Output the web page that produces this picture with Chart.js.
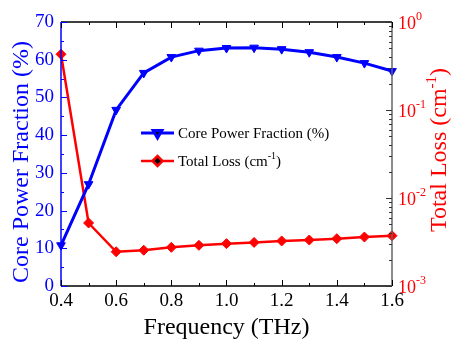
<!DOCTYPE html>
<html>
<head>
<meta charset="utf-8">
<script src="https://cdn.jsdelivr.net/npm/chart.js@4.4.1/dist/chart.umd.min.js"></script>
<style>
  html, body { margin: 0; padding: 0; background: #fff; }
  canvas { display: block; }
</style>
</head>
<body>
<canvas id="chart" width="454" height="341"></canvas>
<script>
'use strict';

const FREQ = [0.4, 0.5, 0.6, 0.7, 0.8, 0.9, 1.0, 1.1, 1.2, 1.3, 1.4, 1.5, 1.6];
const CORE_FRACTION = [10.8, 27.0, 46.7, 56.5, 60.7, 62.4, 63.1, 63.2, 62.8, 62.0, 60.7, 59.1, 57.0];
const TOTAL_LOSS = [0.43, 0.0052, 0.00245, 0.00255, 0.00275, 0.0029, 0.00303, 0.00313, 0.00325, 0.00333, 0.00345, 0.0036, 0.00373];

const LOSS_DECADES = [-3, -2, -1, 0];

const BLUE  = '#0000ff';
const RED   = '#ff0000';
const SERIF = '"Liberation Serif", "Times New Roman", serif';

// inward ticks, titles, log labels and legend
const decorPlugin = {
  id: 'decor',
  afterDraw(chart) {
    const { ctx, chartArea: a, scales } = chart;
    const x = scales.x, y = scales.y, y1 = scales.y1;
    ctx.save();

    // frame
    ctx.lineWidth = 1.5;
    ctx.strokeStyle = '#000';
    ctx.beginPath();
    ctx.moveTo(a.left, a.top); ctx.lineTo(a.right, a.top);
    ctx.moveTo(a.left, a.bottom); ctx.lineTo(a.right, a.bottom);
    ctx.stroke();
    ctx.strokeStyle = '#666';
    ctx.beginPath();
    ctx.moveTo(a.right, a.top); ctx.lineTo(a.right, a.bottom);
    ctx.stroke();
    ctx.strokeStyle = BLUE;
    ctx.beginPath();
    ctx.moveTo(a.left, a.top); ctx.lineTo(a.left, a.bottom);
    ctx.stroke();

    // x ticks top/bottom
    ctx.lineWidth = 1;
    ctx.strokeStyle = '#000';
    ctx.beginPath();
    for (let i = 4; i <= 16; i++) {
      const px = Math.round(x.getPixelForValue(i / 10)) + 0.5;
      const len = i % 2 === 0 ? 6 : 3;
      ctx.moveTo(px, a.bottom); ctx.lineTo(px, a.bottom - len);
      ctx.moveTo(px, a.top);    ctx.lineTo(px, a.top + len);
    }
    ctx.stroke();

    // left ticks
    ctx.strokeStyle = BLUE;
    ctx.beginPath();
    for (let v = 0; v <= 70; v += 5) {
      const py = Math.round(y.getPixelForValue(v)) + 0.5;
      const len = v % 10 === 0 ? 6 : 3;
      ctx.moveTo(a.left, py); ctx.lineTo(a.left + len, py);
    }
    ctx.stroke();

    // right log ticks
    ctx.strokeStyle = '#333';
    ctx.beginPath();
    LOSS_DECADES.forEach(e => {
      const base = Math.pow(10, e);
      const py = Math.round(y1.getPixelForValue(base)) + 0.5;
      ctx.moveTo(a.right, py); ctx.lineTo(a.right - 6, py);
      if (e === 0) return;
      for (let k = 2; k <= 9; k++) {
        const pk = Math.round(y1.getPixelForValue(k * base)) + 0.5;
        ctx.moveTo(a.right, pk); ctx.lineTo(a.right - 3, pk);
      }
    });
    ctx.stroke();

    // right log labels
    ctx.fillStyle = RED;
    ctx.textBaseline = 'middle';
    ctx.textAlign = 'left';
    LOSS_DECADES.forEach(e => {
      const py = y1.getPixelForValue(Math.pow(10, e));
      ctx.font = '18px ' + SERIF;
      ctx.fillText('10', a.right + 6, py + 2);
      const w = ctx.measureText('10').width;
      ctx.font = '12px ' + SERIF;
      ctx.fillText(String(e), a.right + 6 + w, py - 5);
    });

    // left title
    ctx.save();
    ctx.translate(22, (a.top + a.bottom) / 2 + 8);
    ctx.rotate(-Math.PI / 2);
    ctx.textAlign = 'center';
    ctx.fillStyle = BLUE;
    ctx.font = '24px ' + SERIF;
    ctx.fillText('Core Power Fraction (%)', 0, 0);
    ctx.restore();

    // bottom title
    ctx.textAlign = 'center';
    ctx.fillStyle = '#000';
    ctx.font = '24px ' + SERIF;
    ctx.fillText('Frequency (THz)', (a.left + a.right) / 2, 328);

    // right title with superscript
    ctx.save();
    ctx.translate(440, (a.top + a.bottom) / 2 - 4);
    ctx.rotate(-Math.PI / 2);
    ctx.fillStyle = RED;
    ctx.textAlign = 'left';
    const parts = [['Total Loss (cm', '24px', 0], ['-1', '15px', -8], [')', '24px', 0]];
    let total = 0;
    parts.forEach(p => { ctx.font = p[1] + ' ' + SERIF; total += ctx.measureText(p[0]).width; });
    let cx = -total / 2;
    parts.forEach(p => {
      ctx.font = p[1] + ' ' + SERIF;
      ctx.fillText(p[0], cx, p[2]);
      cx += ctx.measureText(p[0]).width;
    });
    ctx.restore();

    // legend
    const items = [
      { ds: chart.data.datasets[0], y: 133, text: [['Core Power Fraction (%)', 0]] },
      { ds: chart.data.datasets[1], y: 161, text: [['Total Loss (cm', 0], ['-1', 1], [')', 0]] },
    ];
    items.forEach(it => {
      const ds = it.ds;
      ctx.strokeStyle = ds.borderColor;
      ctx.lineWidth = ds.borderWidth;
      ctx.beginPath();
      ctx.moveTo(141, it.y); ctx.lineTo(174, it.y);
      ctx.stroke();
      Chart.helpers.drawPoint(ctx, {
        pointStyle: ds.pointStyle, rotation: ds.pointRotation,
        radius: ds.pointRadius, borderWidth: 1,
      }, 157.5, it.y);
      ctx.fillStyle = '#000';
      ctx.textAlign = 'left';
      let tx = 178;
      it.text.forEach(t => {
        ctx.font = (t[1] ? '10px ' : '15px ') + SERIF;
        ctx.fillText(t[0], tx, it.y + (t[1] ? -5 : 1));
        tx += ctx.measureText(t[0]).width;
      });
    });

    ctx.restore();
  },
};

new Chart(document.getElementById('chart'), {
  type: 'line',
  data: {
    datasets: [
      {
        label: 'Core Power Fraction (%)',
        data: FREQ.map((f, i) => ({ x: f, y: CORE_FRACTION[i] })),
        yAxisID: 'y',
        borderColor: BLUE,
        backgroundColor: BLUE,
        borderWidth: 3,
        pointStyle: 'triangle',
        pointRotation: 180,
        pointRadius: 5,
        pointBorderWidth: 1,
        tension: 0,
        clip: false,
      },
      {
        label: 'Total Loss (cm-1)',
        data: FREQ.map((f, i) => ({ x: f, y: TOTAL_LOSS[i] })),
        yAxisID: 'y1',
        borderColor: RED,
        backgroundColor: RED,
        borderWidth: 2.5,
        pointStyle: 'rectRot',
        pointRadius: 5,
        pointBorderWidth: 1,
        tension: 0,
        clip: false,
      },
    ],
  },
  options: {
    responsive: false,
    animation:  false,
    layout: { padding: { top: 22, left: 0, right: 0, bottom: 0 } },
    plugins: {
      legend:  { display: false },
      tooltip: { enabled: false },
    },
    scales: {
      x: {
        type: 'linear',
        min: 0.4,
        max: 1.6,
        grid:   { display: false, drawTicks: false },
        border: { display: false },
        ticks: {
          stepSize: 0.2,
          color: '#000',
          font: { family: SERIF, size: 19 },
          padding: 4,
          maxRotation: 0,
          callback: v => v.toFixed(1),
        },
        afterFit: s => { s.height = 55; },
      },
      y: {
        position: 'left',
        min: 0,
        max: 70,
        grid:   { display: false, drawTicks: false },
        border: { display: false },
        ticks: {
          stepSize: 10,
          color: BLUE,
          font: { family: SERIF, size: 19 },
          padding: 7,
        },
        afterFit: s => { s.width = 61; },
      },
      y1: {
        type: 'logarithmic',
        position: 'right',
        min: 0.001,
        max: 1,
        grid:   { display: false, drawTicks: false },
        border: { display: false },
        ticks:  { display: false },
        afterFit: s => { s.width = 62; },
      },
    },
  },
  plugins: [decorPlugin],
});
</script>
</body>
</html>
